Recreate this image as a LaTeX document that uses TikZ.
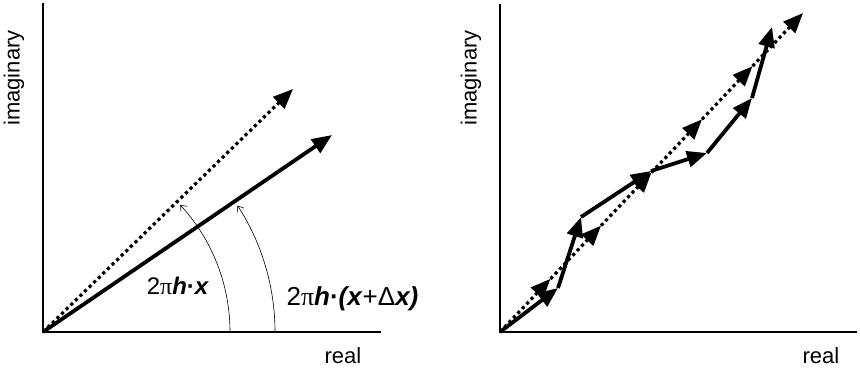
\documentclass[tikz,border=0pt]{standalone}
\usepackage{fontspec}
\setmainfont{Liberation Sans}
\newfontfamily\grk{Liberation Serif}
\usetikzlibrary{arrows.meta}
\begin{document}
\begin{tikzpicture}[x=1pt,y=-1pt,
  axis/.style={line width=1.8pt},
  vec/.style={line width=3.8pt,-{Triangle[length=20pt,width=16pt]}},
  dotvec/.style={line width=3.2pt,dash pattern=on 3.2pt off 3.2pt,-{Triangle[length=20pt,width=16pt]}},
  ang/.style={line width=0.6pt,-{Straight Barb[length=5pt,width=8pt]}},
  lbl/.style={font=\fontsize{22}{26}\selectfont,inner sep=0pt}]
\useasboundingbox[fill=white] (0,0) rectangle (860,370);
% ---------- left panel ----------
\coordinate (L0) at (43,332);
\coordinate (Ltop) at (43,3);
\coordinate (Lright) at (381,332);
\draw[axis] (Ltop) -- (L0) -- (Lright);
\node[lbl,rotate=90] (Limag) at (14,78) {imaginary};
\node[lbl] (Lreal) at (343,356) {real};
\coordinate (Ldot) at (293,89);
\coordinate (Lsol) at (332,135);
\draw[dotvec] (L0) -- (Ldot);
\draw[vec] (L0) -- (Lsol);
\coordinate (A1s) at (230,332);
\coordinate (A2s) at (275,332);
\draw[ang] (A1s) arc[start angle=0,end angle=42.8,radius=187pt];
\draw[ang] (A2s) arc[start angle=0,end angle=33,radius=232pt];
\node[inner sep=0pt,font=\fontsize{24}{28}\selectfont] (lab1) at (178,286) {2{\grk π}\textbf{\textit{h}}\textbf{·}\textbf{\textit{x}}};
\node[inner sep=0pt,font=\fontsize{26}{30}\selectfont] (lab2) at (352.5,299) {2{\grk π}\textbf{\textit{h}}\textbf{·}\textbf{\textit{(x}}+Δ\textbf{\textit{x)}}};
% ---------- right panel ----------
\coordinate (R0) at (500,332);
\coordinate (Rtop) at (500,4);
\coordinate (Rright) at (857,332);
\draw[axis] (Rtop) -- (R0) -- (Rright);
\node[lbl,rotate=90] (Rimag) at (471,78) {imaginary};
\node[lbl] (Rreal) at (821,356) {real};
\coordinate (D1) at (550.5,278.8);
\coordinate (D2) at (601,225.7);
\coordinate (D3) at (651.5,172.5);
\coordinate (D4) at (702,119.3);
\coordinate (D5) at (752.5,66.2);
\coordinate (D6) at (803,13);
\draw[dotvec] (R0) -- (D1);
\draw[dotvec] (D1) -- (D2);
\draw[dotvec] (D2) -- (D3);
\draw[dotvec] (D3) -- (D4);
\draw[dotvec] (D4) -- (D5);
\draw[dotvec] (D5) -- (D6);
\coordinate (S1) at (558,288);
\coordinate (S2) at (581,217);
\coordinate (S3) at (651,171);
\coordinate (S4) at (707,153);
\coordinate (S5) at (752,98);
\coordinate (S6) at (772,27);
\draw[vec] (R0) -- (S1);
\draw[vec] (S1) -- (S2);
\draw[vec] (S2) -- (S3);
\draw[vec] (S3) -- (S4);
\draw[vec] (S4) -- (S5);
\draw[vec] (S5) -- (S6);
\end{tikzpicture}
\end{document}
